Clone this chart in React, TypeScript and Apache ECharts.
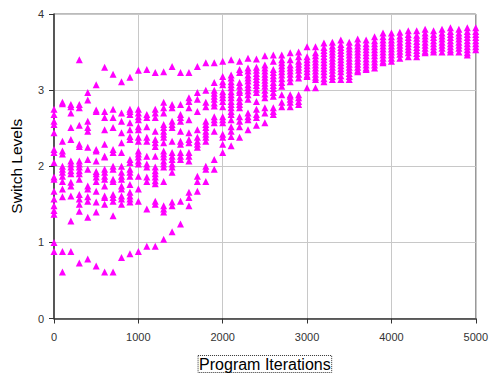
import React, { useEffect, useRef } from "react";
import * as echarts from "echarts";

const xTicks = [0, 1000, 2000, 3000, 4000, 5000];
const yTicks = [0, 1, 2, 3, 4];

const iterations = [
  0, 100, 200, 300, 400, 500, 600, 700, 800, 900,
  1000, 1100, 1200, 1300, 1400, 1500, 1600, 1700, 1800, 1900,
  2000, 2100, 2200, 2300, 2400, 2500, 2600, 2700, 2800, 2900,
  3000, 3100, 3200, 3300, 3400, 3500, 3600, 3700, 3800, 3900,
  4000, 4100, 4200, 4300, 4400, 4500, 4600, 4700, 4800, 4900, 5000,
];

const levelsEarly: number[][] = [
  [2.75, 2.68, 2.59, 2.55, 2.44, 2.22, 2.18, 2.05, 1.86, 1.83, 1.67, 1.57, 1.48, 1.42, 1.37, 1.0, 0.88],
  [2.84, 2.82, 2.33, 2.2, 2.16, 2.0, 1.96, 1.92, 1.87, 1.8, 1.7, 1.6, 0.88, 0.61],
  [2.81, 2.78, 2.7, 2.51, 2.35, 2.07, 2.03, 1.99, 1.94, 1.9, 1.79, 1.74, 1.61, 1.28, 0.88],
  [3.4, 2.81, 2.77, 2.54, 2.29, 2.26, 2.07, 2.03, 1.99, 1.94, 1.9, 1.83, 1.63, 1.57, 1.5, 1.41, 0.73],
  [2.97, 2.87, 2.59, 2.51, 2.46, 2.25, 2.09, 1.96, 1.74, 1.7, 1.6, 1.54, 1.33, 0.78],
  [3.07, 2.74, 2.72, 2.22, 2.2, 2.07, 1.93, 1.9, 1.86, 1.8, 1.67, 1.53, 1.4, 0.69],
  [3.3, 2.72, 2.64, 2.48, 2.29, 2.13, 2.12, 1.96, 1.92, 1.87, 1.83, 1.74, 1.61, 1.59, 1.5, 0.61],
  [3.21, 2.75, 2.64, 2.51, 2.22, 2.18, 2.0, 1.96, 1.83, 1.8, 1.63, 1.59, 1.54, 1.35, 0.61],
  [3.11, 2.7, 2.59, 2.44, 2.31, 2.18, 2.0, 1.92, 1.87, 1.83, 1.74, 1.7, 1.61, 1.57, 1.5, 0.8],
  [3.17, 2.75, 2.72, 2.68, 2.57, 2.48, 2.39, 2.35, 2.09, 2.05, 1.96, 1.92, 1.87, 1.76, 1.66, 1.61, 1.57, 1.53, 0.85],
  [3.26, 2.75, 2.7, 2.65, 2.61, 2.52, 2.48, 2.38, 2.33, 2.2, 2.16, 2.12, 2.07, 2.03, 1.87, 1.7, 1.54, 0.88],
  [3.27, 2.68, 2.64, 2.52, 2.38, 2.33, 2.13, 2.03, 1.99, 1.86, 1.8, 1.44, 0.95],
  [3.23, 2.75, 2.7, 2.64, 2.46, 2.35, 2.31, 2.26, 2.13, 1.99, 1.94, 1.9, 1.86, 1.81, 1.77, 1.54, 1.5, 0.95],
  [3.24, 2.84, 2.77, 2.7, 2.55, 2.51, 2.46, 2.42, 2.38, 2.31, 2.2, 2.16, 2.12, 2.07, 2.03, 1.99, 1.8, 1.48, 1.44, 1.4, 1.04],
  [3.31, 2.81, 2.77, 2.59, 2.55, 2.51, 2.33, 2.18, 2.13, 2.09, 2.03, 1.99, 1.92, 1.53, 1.48, 1.14],
  [3.23, 2.81, 2.68, 2.64, 2.59, 2.46, 2.33, 2.29, 2.18, 2.13, 2.09, 1.54, 1.24],
  [3.23, 2.9, 2.85, 2.77, 2.61, 2.44, 2.35, 2.31, 2.18, 2.13, 2.07, 1.66, 1.59, 1.48],
];

const levelsMid: number[][] = [
  [3.31, 2.97, 2.88, 2.72, 2.48, 2.38, 2.33, 2.29, 2.25, 1.87, 1.8, 1.67],
  [3.36, 3.0, 2.84, 2.78, 2.59, 2.55, 2.51, 2.46, 2.42, 2.38, 2.33, 2.0, 1.96, 1.8],
  [3.36, 3.1, 3.0, 2.96, 2.92, 2.88, 2.83, 2.79, 2.65, 2.61, 2.57, 2.46, 2.09, 1.96],
  [3.38, 3.18, 3.11, 3.07, 2.98, 2.94, 2.9, 2.85, 2.78, 2.65, 2.61, 2.57, 2.42, 2.38, 2.29, 2.18],
  [3.4, 3.2, 3.16, 3.11, 3.07, 3.03, 2.98, 2.94, 2.9, 2.85, 2.81, 2.77, 2.72, 2.68, 2.61, 2.52, 2.46, 2.39, 2.27],
  [3.38, 3.27, 3.23, 3.1, 3.05, 3.0, 2.97, 2.9, 2.85, 2.81, 2.77, 2.65, 2.59, 2.52, 2.38],
  [3.42, 3.29, 3.25, 3.2, 3.16, 3.12, 3.07, 3.03, 2.99, 2.94, 2.88, 2.7, 2.65, 2.61, 2.48],
  [3.41, 3.3, 3.26, 3.22, 3.18, 3.14, 3.1, 3.06, 3.01, 2.97, 2.85, 2.75, 2.68, 2.64, 2.54],
  [3.45, 3.33, 3.29, 3.25, 3.21, 3.17, 3.13, 3.09, 3.05, 3.0, 2.95, 2.9, 2.77, 2.7, 2.57],
  [3.46, 3.38, 3.27, 3.23, 3.19, 3.15, 3.1, 3.06, 3.02, 2.97, 2.92, 2.77, 2.72, 2.68],
  [3.46, 3.4, 3.36, 3.32, 3.28, 3.24, 3.2, 3.15, 3.1, 3.05, 2.94, 2.84, 2.78],
  [3.49, 3.4, 3.33, 3.29, 3.25, 3.21, 3.16, 3.11, 2.94, 2.92, 2.88, 2.84, 2.78],
  [3.5, 3.44, 3.38, 3.34, 3.3, 3.26, 3.21, 3.16, 2.94, 2.9, 2.85, 2.81],
];

const levelsLate: number[][] = [
  [3.57, 3.44, 3.4, 3.36, 3.32, 3.28, 3.24, 3.2, 3.18, 3.03],
  [3.57, 3.49, 3.45, 3.41, 3.37, 3.33, 3.29, 3.25, 3.21, 3.17, 3.14, 3.03],
  [3.62, 3.56, 3.52, 3.48, 3.44, 3.4, 3.36, 3.32, 3.28, 3.24, 3.2, 3.15, 3.11],
  [3.63, 3.58, 3.54, 3.5, 3.46, 3.42, 3.38, 3.34, 3.3, 3.26, 3.22, 3.18, 3.14],
  [3.66, 3.6, 3.56, 3.52, 3.48, 3.44, 3.4, 3.36, 3.32, 3.28, 3.24, 3.19, 3.14],
  [3.63, 3.58, 3.54, 3.5, 3.46, 3.42, 3.38, 3.34, 3.3, 3.26, 3.22, 3.18, 3.14],
  [3.67, 3.62, 3.58, 3.54, 3.5, 3.46, 3.42, 3.38, 3.34, 3.3, 3.26, 3.24],
  [3.66, 3.61, 3.57, 3.53, 3.49, 3.45, 3.41, 3.37, 3.33, 3.29, 3.27],
  [3.7, 3.65, 3.61, 3.57, 3.53, 3.49, 3.45, 3.41, 3.37, 3.33, 3.29],
  [3.75, 3.7, 3.66, 3.62, 3.58, 3.54, 3.5, 3.46, 3.42, 3.38, 3.36],
  [3.75, 3.7, 3.66, 3.62, 3.58, 3.54, 3.5, 3.46, 3.42, 3.38],
  [3.76, 3.71, 3.67, 3.63, 3.59, 3.55, 3.51, 3.47, 3.42],
  [3.78, 3.73, 3.69, 3.65, 3.61, 3.57, 3.53, 3.49, 3.44],
  [3.78, 3.72, 3.68, 3.64, 3.6, 3.56, 3.52, 3.48, 3.44],
  [3.8, 3.75, 3.71, 3.67, 3.63, 3.59, 3.55, 3.51, 3.49],
  [3.78, 3.73, 3.69, 3.65, 3.61, 3.57, 3.53, 3.5],
  [3.8, 3.75, 3.71, 3.67, 3.63, 3.59, 3.55, 3.5],
  [3.82, 3.77, 3.73, 3.69, 3.65, 3.61, 3.57, 3.53, 3.5],
  [3.8, 3.75, 3.71, 3.67, 3.63, 3.59, 3.55, 3.5],
  [3.82, 3.77, 3.73, 3.69, 3.65, 3.61, 3.57, 3.53, 3.49, 3.46],
  [3.82, 3.77, 3.73, 3.69, 3.65, 3.61, 3.57, 3.53],
];

const xAxisTitle = "Program Iterations";
const yAxisTitle = "Switch Levels";

export default function App() {
  const ref = useRef<HTMLDivElement>(null);

  useEffect(() => {
    if (!ref.current) return;
    const chart = echarts.init(ref.current, null, { renderer: "svg" });
    const allLevels = [...levelsEarly, ...levelsMid, ...levelsLate];
    const points: number[][] = [];
    allLevels.forEach((col, i) => {
      col.forEach((v) => points.push([iterations[i], v]));
    });
    const font = "Arial, 'Liberation Sans', sans-serif";
    chart.setOption({
      animation: false,
      backgroundColor: "#ffffff",
      grid: {
        left: 52,
        right: 11,
        top: 14,
        bottom: 58,
        show: true,
        borderColor: "#777777",
        borderWidth: 1,
        backgroundColor: "transparent",
      },
      xAxis: {
        type: "value",
        min: xTicks[0],
        max: xTicks[xTicks.length - 1],
        interval: 1000,
        name: xAxisTitle,
        nameLocation: "middle",
        nameGap: 37,
        nameTextStyle: {
          fontFamily: font,
          fontSize: 16,
          color: "#000",
          borderType: "dotted",
          borderColor: "#333",
          borderWidth: 1,
          padding: [1, 1, 0, 1],
        },
        axisLine: { show: true, lineStyle: { color: "#333", width: 1.5 } },
        axisTick: { show: true, length: 5, lineStyle: { color: "#333" } },
        axisLabel: {
          fontFamily: font,
          fontSize: 11,
          color: "#333",
          margin: 13,
          formatter: (v: number) => String(v),
        },
        splitLine: { show: true, lineStyle: { color: "#c8c8c8", width: 1 } },
      },
      yAxis: {
        type: "value",
        min: yTicks[0],
        max: yTicks[yTicks.length - 1],
        interval: 1,
        name: yAxisTitle,
        nameLocation: "middle",
        nameGap: 30,
        nameRotate: 90,
        nameTextStyle: { fontFamily: font, fontSize: 15.5, color: "#000" },
        axisLine: { show: true, lineStyle: { color: "#333", width: 1.5 } },
        axisTick: { show: true, length: 5, lineStyle: { color: "#333" } },
        axisLabel: { fontFamily: font, fontSize: 11, color: "#333", margin: 10 },
        splitLine: { show: true, lineStyle: { color: "#c8c8c8", width: 1 } },
      },
      series: [
        {
          type: "scatter",
          data: points,
          symbol: "triangle",
          symbolSize: [7, 7],
          itemStyle: { color: "#ff00ff", opacity: 1 },
          emphasis: { disabled: true },
        },
      ],
    });
    return () => chart.dispose();
  }, []);

  return <div ref={ref} style={{ width: 491, height: 378, position: "absolute", left: 0, top: 0 }} />;
}
